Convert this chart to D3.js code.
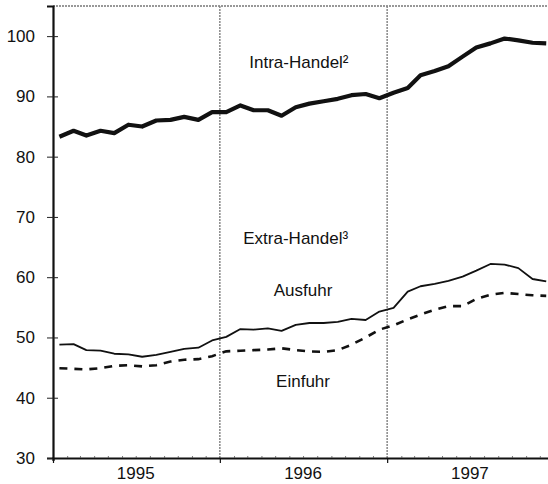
<!DOCTYPE html>
<html>
<head>
<meta charset="utf-8">
<script src="https://cdn.jsdelivr.net/npm/d3@7"></script>
<style>
	body { margin: 0; background: #fff; }
	svg { display: block; font-family: "Liberation Sans", Arial, sans-serif; }
</style>
</head>
<body>
<div id="chart"></div>
<script>
// monthly values, Jan 1995 - Dec 1997
var years = [1995, 1996, 1997];
var intraHandel = [83.3, 84.3, 83.5, 84.3, 83.9, 85.3, 85.0, 86.0, 86.1, 86.6, 86.1, 87.4,
	87.4, 88.5, 87.7, 87.7, 86.8, 88.2, 88.8, 89.2, 89.6, 90.2, 90.4, 89.7,
	90.6, 91.4, 93.5, 94.2, 95.0, 96.6, 98.1, 98.8, 99.6, 99.3, 98.9, 98.8];
var ausfuhr = [48.8, 48.9, 47.9, 47.8, 47.3, 47.2, 46.8, 47.1, 47.6, 48.1, 48.3, 49.5,
	50.1, 51.4, 51.3, 51.5, 51.1, 52.1, 52.4, 52.4, 52.6, 53.1, 52.9, 54.3,
	54.9, 57.6, 58.5, 58.9, 59.4, 60.1, 61.1, 62.2, 62.1, 61.5, 59.7, 59.3];
var einfuhr = [44.9, 44.8, 44.7, 44.9, 45.3, 45.4, 45.2, 45.4, 46.0, 46.3, 46.4, 46.9,
	47.7, 47.8, 47.9, 48.0, 48.2, 47.9, 47.7, 47.6, 47.9, 48.8, 50.0, 51.3,
	52.0, 53.0, 53.8, 54.6, 55.2, 55.2, 56.4, 57.1, 57.4, 57.2, 57.0, 56.9];
var yTicks = [30, 40, 50, 60, 70, 80, 90, 100];
var labels = [
	{text: "Intra-Handel\u00b2", date: new Date(1996, 5, 22), v: 94.7},
	{text: "Extra-Handel\u00b3", date: new Date(1996, 5, 15), v: 65.5},
	{text: "Ausfuhr", date: new Date(1996, 6, 1), v: 56.9},
	{text: "Einfuhr", date: new Date(1996, 6, 1), v: 41.8}
];

var W = 548, H = 484;
var margin = {top: 6, left: 53, bottom: 26};
var svg = d3.select("#chart").append("svg")
	.attr("width", W)
	.attr("height", H);

var x = d3.scaleTime()
	.domain([new Date(1995, 0, 1), new Date(1998, 0, 1)])
	.range([margin.left, 554]);
var y = d3.scaleLinear()
	.domain([30, 105])
	.range([H - margin.bottom, margin.top]);

function monthDate(i) { return new Date(1995 + Math.floor(i / 12), i % 12, 15); }

// top frame line and year dividers
svg.append("line")
	.attr("x1", margin.left).attr("x2", W)
	.attr("y1", y(105)).attr("y2", y(105))
	.attr("stroke", "#777").attr("stroke-width", 1.5)
	.attr("stroke-dasharray", "2,1");

svg.selectAll(".divider")
	.data(years.slice(1))
	.enter().append("line")
	.attr("class", "divider")
	.attr("x1", function(d) { return x(new Date(d, 0, 1)); })
	.attr("x2", function(d) { return x(new Date(d, 0, 1)); })
	.attr("y1", y(105)).attr("y2", y(30))
	.attr("stroke", "#888").attr("stroke-width", 1.5)
	.attr("stroke-dasharray", "2,1");

// y axis
var yAxis = svg.append("g")
	.attr("transform", "translate(" + margin.left + ",0)")
	.call(d3.axisLeft(y).tickValues(yTicks).tickSize(6).tickPadding(12));
yAxis.select(".domain").attr("stroke", "#111").attr("stroke-width", 2.2);
yAxis.selectAll(".tick line").attr("x2", 5).attr("x1", -6).attr("stroke", "#222").attr("stroke-width", 1);
yAxis.selectAll(".tick text").attr("font-size", 17).attr("fill", "#111")
	.attr("font-family", "'Liberation Sans', Arial, sans-serif");

// x axis
var xAxis = svg.append("g")
	.attr("transform", "translate(0," + y(30) + ")")
	.call(d3.axisBottom(x)
		.tickValues(d3.range(0, 37).map(function(i) { return new Date(1995 + Math.floor(i / 12), i % 12, 1); }))
		.tickSize(3).tickFormat(""));
xAxis.select(".domain").attr("stroke", "#111").attr("stroke-width", 2.2);
xAxis.selectAll(".tick line")
	.attr("stroke", "#555").attr("stroke-width", 0.8)
	.attr("y1", -2).attr("y2", 0);
xAxis.selectAll(".tick line")
	.filter(function(d) { return d.getMonth() === 0; })
	.attr("stroke", "#111").attr("stroke-width", 1.2).attr("y1", 0).attr("y2", 5);

svg.selectAll(".year")
	.data(years)
	.enter().append("text")
	.attr("class", "year")
	.attr("x", function(d) { return x(new Date(d, 6, 1)); })
	.attr("y", H - 5)
	.attr("text-anchor", "middle")
	.attr("font-size", 17)
	.attr("fill", "#111")
	.text(function(d) { return d; });

// series
var line = d3.line()
	.x(function(d, i) { return x(monthDate(i)); })
	.y(function(d) { return y(d); });

svg.append("path")
	.datum(intraHandel)
	.attr("d", line)
	.attr("fill", "none").attr("stroke", "#111")
	.attr("stroke-width", 4.2).attr("stroke-linejoin", "round");

svg.append("path")
	.datum(ausfuhr)
	.attr("d", line)
	.attr("fill", "none").attr("stroke", "#111")
	.attr("stroke-width", 1.8).attr("stroke-linejoin", "round");

svg.append("path")
	.datum(einfuhr)
	.attr("d", line)
	.attr("fill", "none").attr("stroke", "#111")
	.attr("stroke-width", 2.6).attr("stroke-dasharray", "8,7");

// series labels
svg.selectAll(".label")
	.data(labels)
	.enter().append("text")
	.attr("class", "label")
	.attr("x", function(d) { return x(d.date); })
	.attr("y", function(d) { return y(d.v); })
	.attr("text-anchor", "middle")
	.attr("font-size", 17)
	.attr("fill", "#111")
	.text(function(d) { return d.text; });
</script>
</body>
</html>
